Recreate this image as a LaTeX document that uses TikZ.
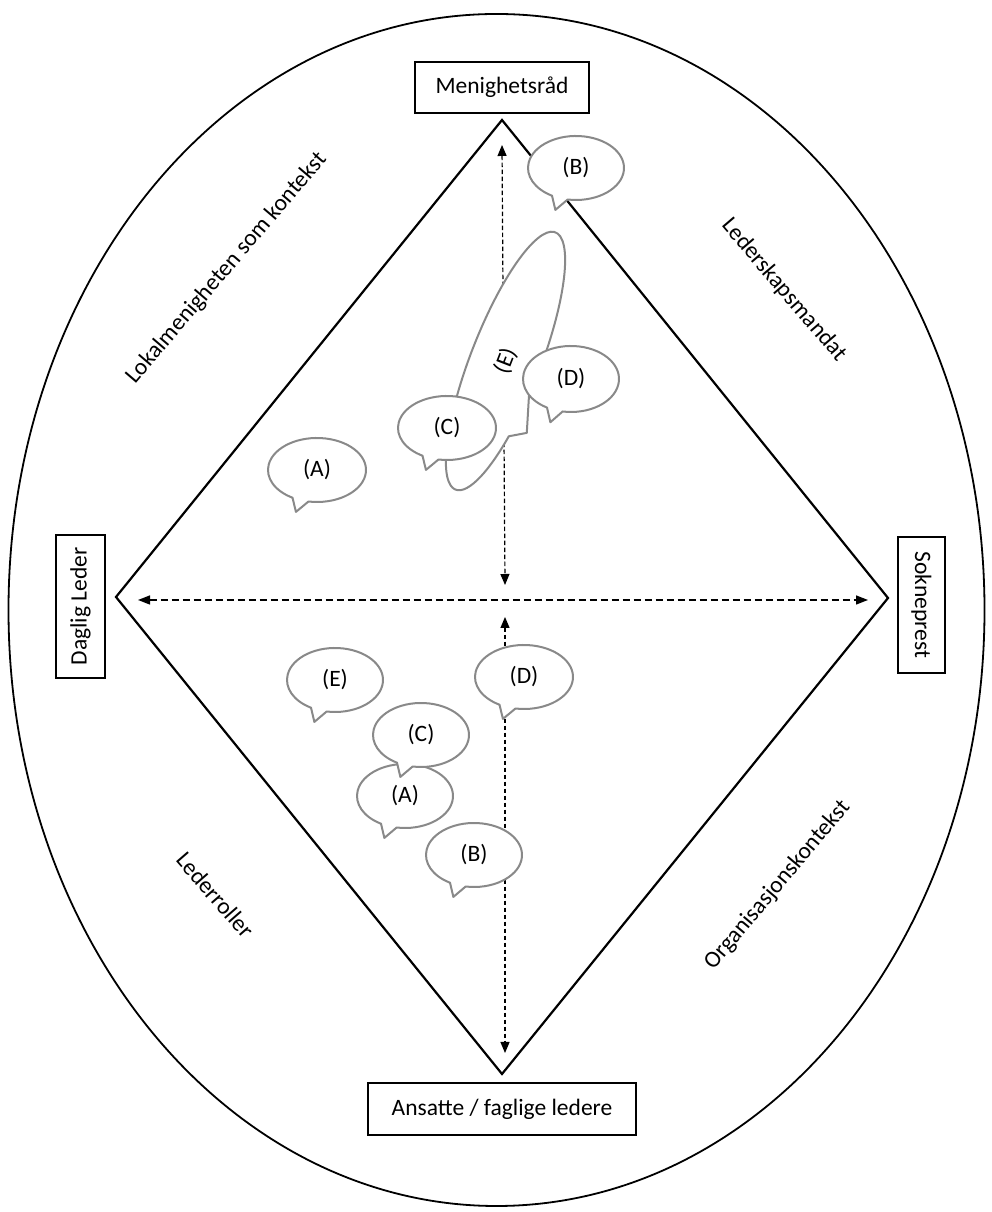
\documentclass[tikz,border=0pt]{standalone}
\usepackage{fontspec}
\setmainfont{Carlito}
\usetikzlibrary{arrows.meta}
\definecolor{bubblegray}{RGB}{137,137,137}
\newcommand{\speech}[7]{%
  \begin{scope}[shift={(#2,#3)}, rotate=#6]
    \filldraw[bubble] (260:#4 and #5) arc[start angle=260, end angle=600, x radius=#4, y radius=#5] -- (-0.43*#4,-1.31*#5) -- cycle;
  \end{scope}
  \node[lbl, rotate=#6] (#1) at (#2,#3) {#7};
}
\begin{document}
\begin{tikzpicture}[x=1pt, y=1pt,
  lbl/.style={font=\fontsize{23.5}{28}\selectfont, inner sep=0pt},
  box/.style={draw, line width=1.3pt, font=\fontsize{23.5}{28}\selectfont, inner sep=0pt},
  bubble/.style={draw=bubblegray, fill=white, line width=2pt, line join=round},
  dia/.style={line width=2.2pt, line join=miter},
  outer/.style={line width=1.8pt},
  harrow/.style={line width=1.4pt, dash pattern=on 7pt off 4pt, {Triangle[length=12pt,width=9pt]}-{Triangle[length=12pt,width=9pt]}},
  varrow/.style={line width=1.2pt, dash pattern=on 4.5pt off 2.5pt, {Triangle[length=11pt,width=9pt]}-{Triangle[length=11pt,width=9pt]}}
]
\useasboundingbox (0,0) rectangle (991,1212);
\fill[white] (0,0) rectangle (991,1212);

% outer ellipse
\draw[outer] (496.5,602) ellipse [x radius=488, y radius=596];

% diamond
\coordinate (T) at (502,1092);
\coordinate (R) at (888,614);
\coordinate (B) at (502,138);
\coordinate (L) at (116,615);
\draw[dia] (T) -- (R) -- (B) -- (L) -- cycle;

% boxes
\node[box, minimum width=174pt, minimum height=51pt] (men) at (502,1124.5) {Menighetsråd};
\node[box, minimum width=268pt, minimum height=52pt] (ans) at (502,103) {Ansatte / faglige ledere};
\node[box, rotate=90, minimum width=143pt, minimum height=49pt] (dag) at (80.5,605.5) {Daglig Leder};
\node[box, rotate=-90, minimum width=136pt, minimum height=47pt] (sok) at (921.5,607) {Sokneprest};

% side labels
\node[lbl, rotate=49.5] (lok) at (226.5,944) {Lokalmenigheten som kontekst};
\node[lbl, rotate=-49.5] (lds) at (784,922) {Lederskapsmandat};
\node[lbl, rotate=-49] (ldr) at (215.5,317) {Lederroller};
\node[lbl, rotate=50] (org) at (777.5,327) {Organisasjonskontekst};

% dashed arrows
\coordinate (hL) at (138,612);
\coordinate (hR) at (868,612);
\coordinate (vT1) at (502,1067);
\coordinate (vB1) at (505,627);
\coordinate (vT2) at (505,595);
\coordinate (vB2) at (505,159);
\draw[harrow] (hL) -- (hR);
\draw[varrow] (vT1) -- (vB1);
\draw[varrow] (vT2) -- (vB2);

% upper bubbles
\speech{uE}{505.5}{851}{138}{35}{68.8}{(E)}
\speech{uA}{317}{742}{49}{32}{0}{(A)}
\speech{uB}{576}{1044}{48}{32}{0}{(B)}
\speech{uC}{447}{784}{49}{32}{0}{(C)}
\speech{uD}{571}{833}{48}{33}{0}{(D)}

% lower bubbles
\speech{lE}{335}{532}{48}{32}{0}{(E)}
\speech{lD}{524}{535}{49}{32}{0}{(D)}
\speech{lA}{405}{416}{48}{32}{0}{(A)}
\speech{lC}{421}{477}{48}{32}{0}{(C)}
\speech{lB}{474}{357}{48}{32}{0}{(B)}
\end{tikzpicture}
\end{document}
